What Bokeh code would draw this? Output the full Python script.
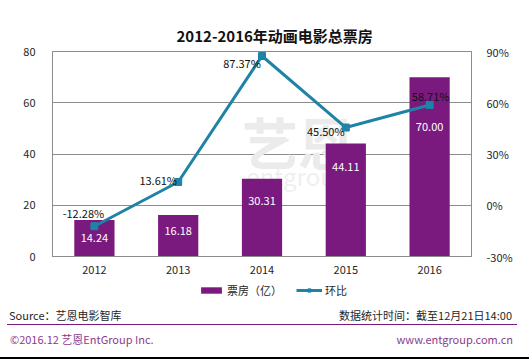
from bokeh.plotting import figure
from bokeh.layouts import column
from bokeh.models import (Range1d, LinearAxis, FixedTicker, PrintfTickFormatter,
                          Legend, LegendItem, ColumnDataSource, FactorRange, Div, Title)
from bokeh.core.properties import value
from bokeh.embed import file_html
from bokeh.resources import INLINE

# ---------------- data ----------------
years = ["2012", "2013", "2014", "2015", "2016"]
box_office = [14.24, 16.18, 30.31, 44.11, 70.00]          # 票房（亿）
growth = [-12.28, 13.61, 87.37, 45.50, 58.71]             # 环比 (%)
left_ticks = [0, 20, 40, 60, 80]
right_ticks = [-30, 0, 30, 60, 90]

title_text = "2012-2016年动画电影总票房"
legend_labels = ["票房（亿）", "环比"]
source_text = "Source：艺恩电影智库"
date_text = "数据统计时间：截至12月21日14:00"
copyright_text = "©2016.12 艺恩EntGroup Inc."
url_text = "www.entgroup.com.cn"

# ---------------- style ----------------
FONT = "Noto Sans CJK SC"
PURPLE = "#7A1A7E"
TEAL = "#1F83A6"
GRID = "#8C8C8C"
TXT = "#262626"
W = 529

# label offsets (pixels) — styling only
bar_label_dy = [18, 16, 22, 24, 50]
pct_label_dx = [-11, -20, -20, -20, 1]
pct_label_dy = [-13, -2, 7, 3, -9]

src = ColumnDataSource(dict(
    year=years, bo=box_office, g=growth,
    bo_lbl=[f"{v:.2f}" for v in box_office],
    g_lbl=[f"{v:.2f}%" for v in growth],
    bdy=bar_label_dy, gdx=pct_label_dx, gdy=pct_label_dy,
))

# ---------------- main chart ----------------
p = figure(width=W, height=280, x_range=FactorRange(*years, range_padding=0),
           y_range=Range1d(0, 80), output_backend="svg", toolbar_location=None,
           min_border_left=52, min_border_right=58, min_border_top=51,
           min_border_bottom=24)
p.title = Title(text=title_text, align="left", offset=124, standoff=12,
                text_font=FONT, text_font_size="15px", text_font_style="bold",
                text_color="#111111")
p.extra_y_ranges = {"pct": Range1d(-30, 90)}
p.outline_line_color = GRID
p.background_fill_color = "white"
p.border_fill_color = "white"

p.xgrid.visible = False
p.ygrid.grid_line_color = GRID
p.ygrid.ticker = FixedTicker(ticks=left_ticks)

for ax in (p.xaxis[0], p.yaxis[0]):
    ax.axis_line_color = GRID
    ax.major_tick_line_color = None
    ax.minor_tick_line_color = None
    ax.major_label_text_font = FONT
    ax.major_label_text_font_size = "11px"
    ax.major_label_text_color = TXT
p.yaxis[0].ticker = FixedTicker(ticks=left_ticks)
p.yaxis[0].major_label_standoff = 11
p.xaxis[0].major_label_standoff = 3

rax = LinearAxis(y_range_name="pct", ticker=FixedTicker(ticks=right_ticks),
                 formatter=PrintfTickFormatter(format="%d%%"))
rax.axis_line_color = GRID
rax.major_tick_line_color = None
rax.minor_tick_line_color = None
rax.major_label_text_font = FONT
rax.major_label_text_font_size = "11px"
rax.major_label_text_color = TXT
rax.major_label_standoff = 9
p.add_layout(rax, "right")

# faint watermark
p.text(x=["2014"], y=[40], text=["艺恩"], x_offset=36, y_offset=-14,
       text_font=value(FONT), text_font_size="56px", text_font_style="bold",
       text_color="#EBEBEB", text_align="center", text_baseline="middle")
p.text(x=["2014"], y=[40], text=["entgroup"], x_offset=36, y_offset=21,
       text_font=value(FONT), text_font_size="24px",
       text_color="#EFEFEF", text_align="center", text_baseline="middle")

bar_kw = dict(width=0.48, fill_color=PURPLE, line_color=None)
line_kw = dict(line_color=TEAL, line_width=3)
mark_kw = dict(marker="square", size=7, fill_color=TEAL, line_color=TEAL)

p.vbar(x="year", top="bo", source=src, **bar_kw)
p.line(x="year", y="g", source=src, y_range_name="pct", **line_kw)
p.scatter(x="year", y="g", source=src, y_range_name="pct", **mark_kw)

p.text(x="year", y="bo", text="bo_lbl", source=src, y_offset="bdy",
       text_font=value(FONT), text_font_size="11px", text_color="white",
       text_align="center", text_baseline="middle")
p.text(x="year", y="g", text="g_lbl", source=src, y_range_name="pct",
       x_offset="gdx", y_offset="gdy", text_font=value(FONT),
       text_font_size="11px", text_color="#111111", text_align="center",
       text_baseline="middle")

# ---------------- legend row ----------------
lg = figure(width=W, height=24, x_range=FactorRange(*years, range_padding=0),
            y_range=Range1d(1000, 1001), output_backend="svg",
            toolbar_location=None, x_axis_location=None, y_axis_location=None,
            min_border_left=52, min_border_right=58, min_border_top=0,
            min_border_bottom=0)
lg.grid.visible = False
lg.outline_line_color = None
lg.extra_y_ranges = {"pct": Range1d(1000, 1001)}
lb = lg.vbar(x="year", top="bo", source=src, **bar_kw)
ll = lg.line(x="year", y="g", source=src, y_range_name="pct", **line_kw)
lm = lg.scatter(x="year", y="g", source=src, y_range_name="pct", **mark_kw)
legend = Legend(items=[LegendItem(label=legend_labels[0], renderers=[lb]),
                       LegendItem(label=legend_labels[1], renderers=[ll, lm])],
                orientation="horizontal", location=(146, 6),
                glyph_width=26, glyph_height=8, label_height=12,
                label_standoff=3, spacing=14, padding=0, margin=0,
                border_line_alpha=0, background_fill_alpha=0,
                label_text_font=FONT, label_text_font_size="11px",
                label_text_color=TXT)
lg.add_layout(legend)

# ---------------- footer (HTML) ----------------
footer_html = f"""
<div style="position:relative;width:{W}px;height:56px;font-family:'{FONT}';font-size:11px;line-height:14px;">
  <div style="position:absolute;left:9px;top:4px;color:{TXT};white-space:nowrap;">{source_text}</div>
  <div style="position:absolute;right:17px;top:4px;color:{TXT};white-space:nowrap;">{date_text}</div>
  <div style="position:absolute;left:7px;top:20px;width:510px;height:0;border-top:1px solid {PURPLE};"></div>
  <div style="position:absolute;left:10px;top:28px;color:#8B3B8F;white-space:nowrap;">{copyright_text}</div>
  <div style="position:absolute;right:16px;top:28px;color:#8B3B8F;white-space:nowrap;">{url_text}</div>
  <div style="position:absolute;left:0px;top:53px;width:{W}px;height:0;border-top:2px solid #000;"></div>
</div>
"""
ftr = Div(text=footer_html, width=W, height=56, margin=0)

layout = column(p, lg, ftr, spacing=0)
open("out.html", "w").write(file_html(layout, INLINE))
